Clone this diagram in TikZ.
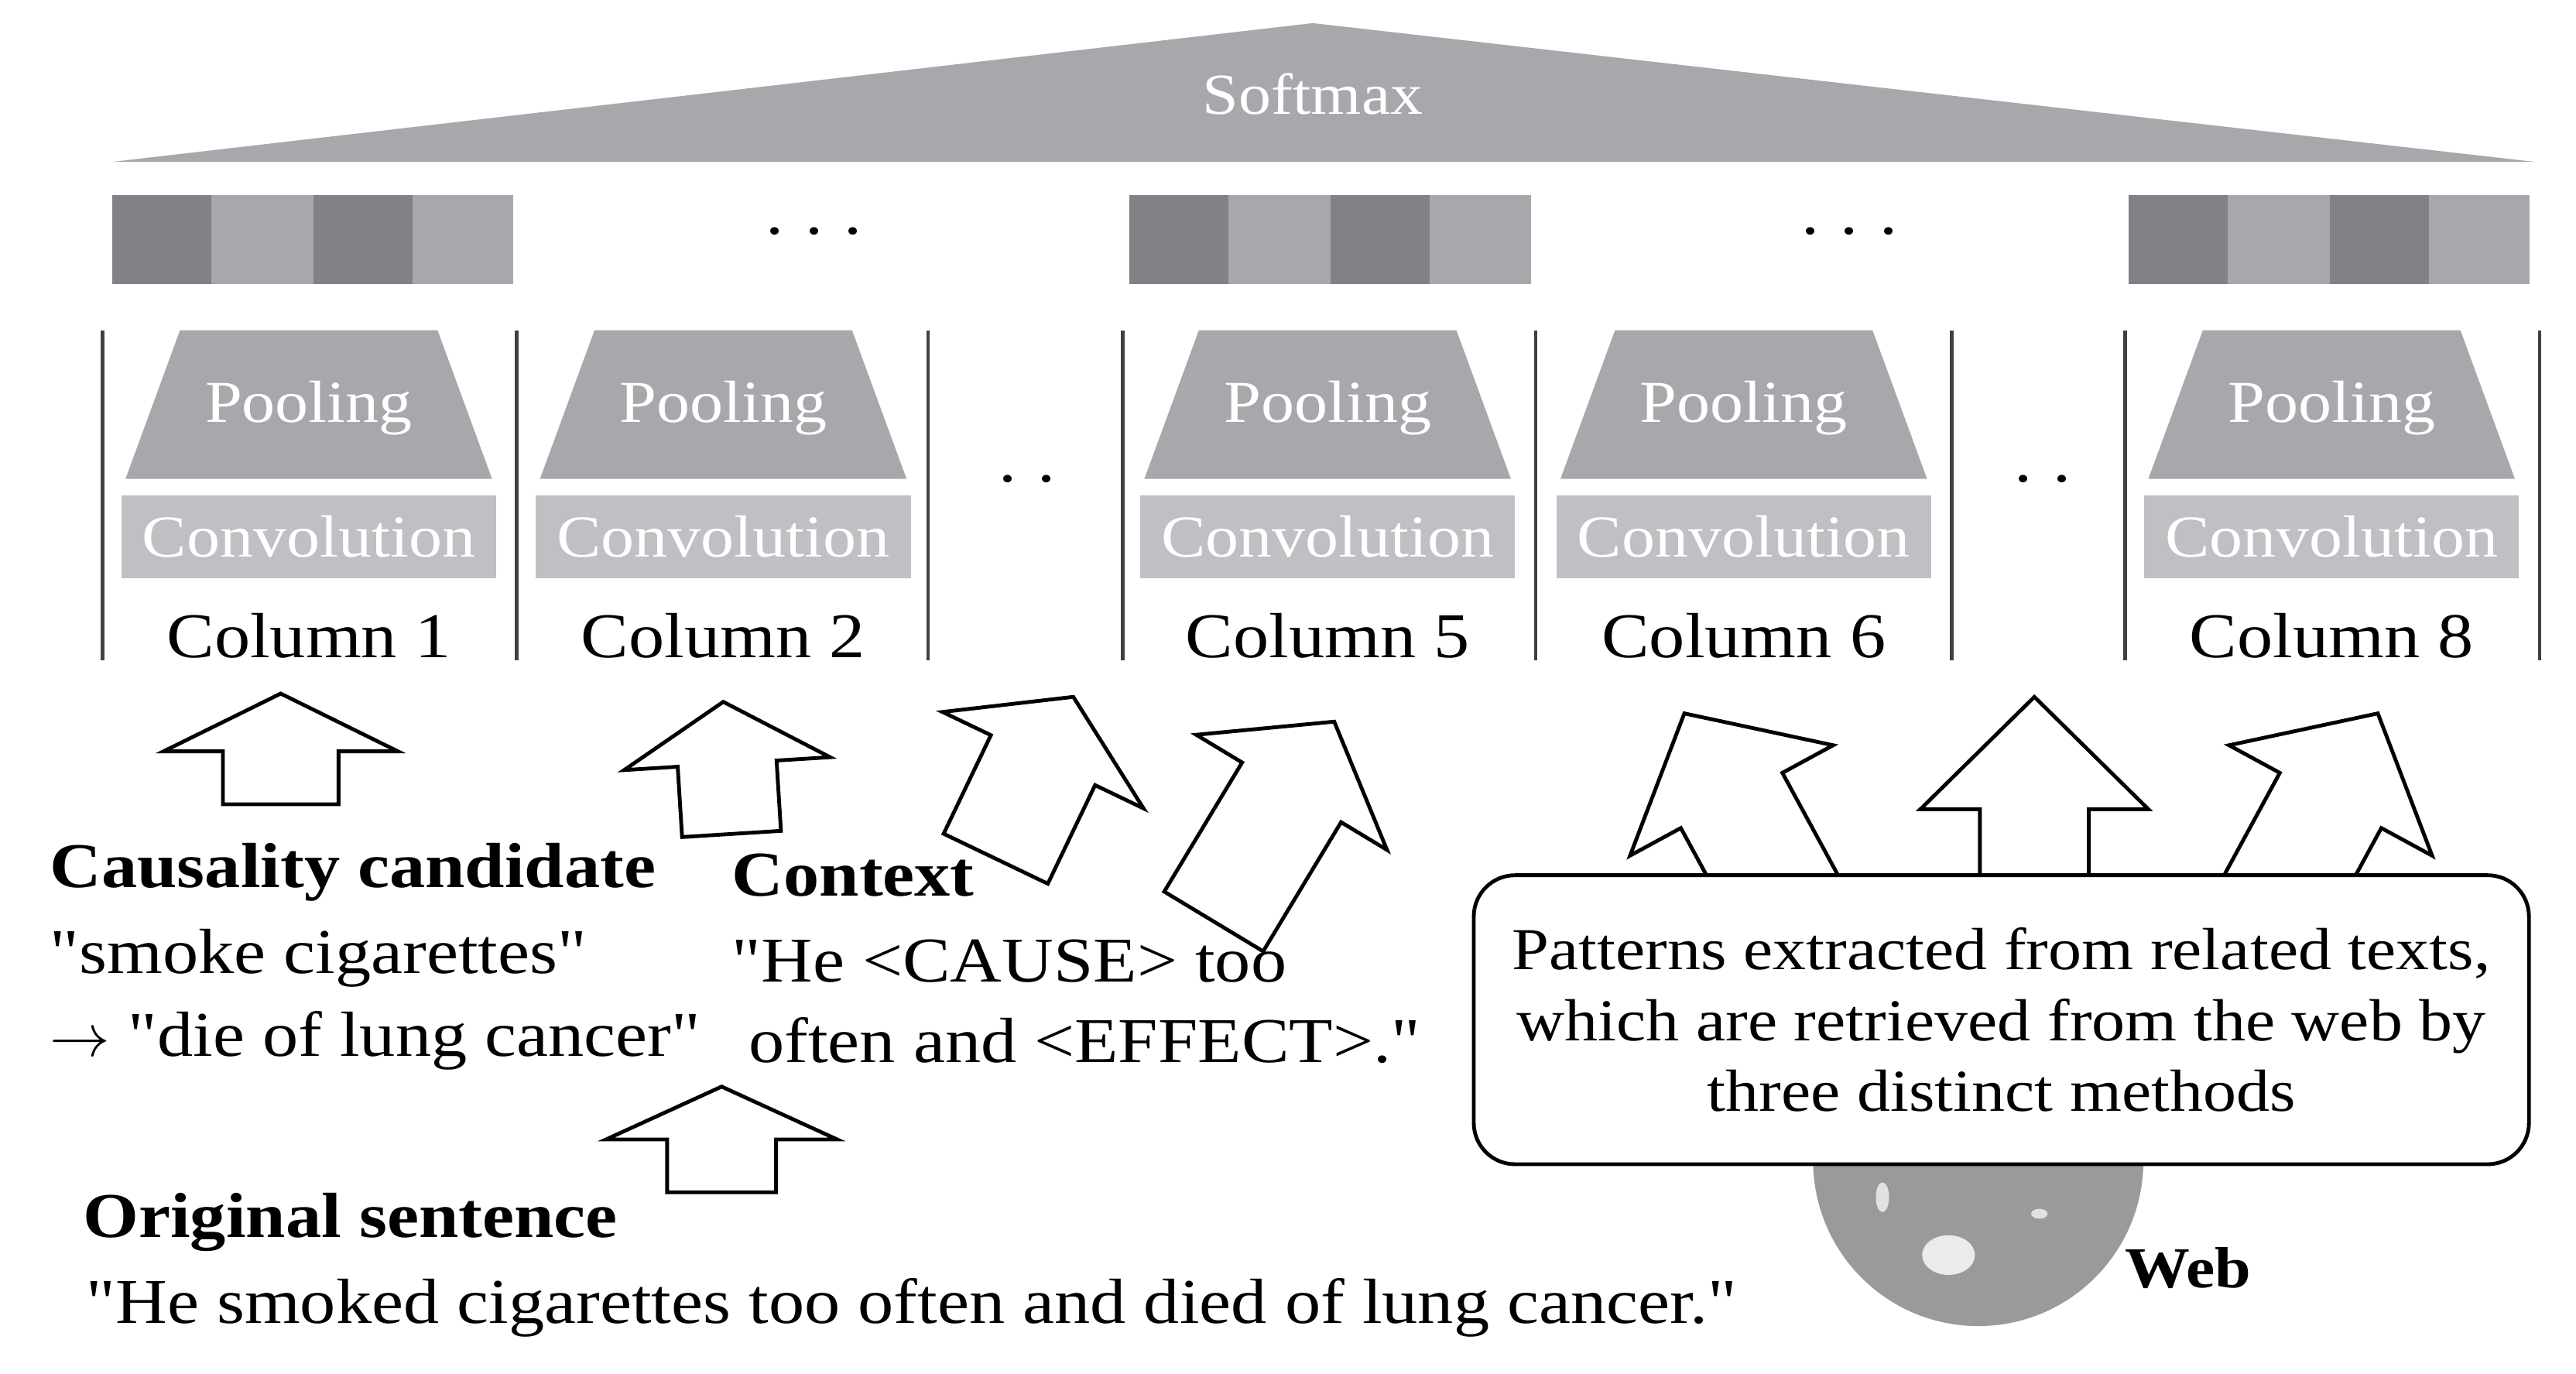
\documentclass[tikz,border=0pt]{standalone}
\usepackage{fontspec}
\setmainfont[FakeStretch=1.12]{Liberation Serif}
\newfontface\qf[FakeStretch=1.12]{Liberation Serif}
\usetikzlibrary{calc}
\definecolor{gmid}{HTML}{A7A8AB}
\definecolor{gdark}{HTML}{808285}
\definecolor{glight}{HTML}{BFC0C3}
\definecolor{globe}{HTML}{9A9A9A}
\newcommand{\q}{{\qf"}}
\newcommand{\blockarrow}[5]{% tail, tip, shaft half, head half, head len (cm)
  \draw[line width=1.3pt,fill=white,line join=miter]
   ($(#1)!#3!90:(#2)$)
   -- ($($(#2)!#5!(#1)$)!#3!90:(#2)$)
   -- ($($(#2)!#5!(#1)$)!#4!90:(#2)$)
   -- (#2)
   -- ($($(#2)!#5!(#1)$)!#4!-90:(#2)$)
   -- ($($(#2)!#5!(#1)$)!#3!-90:(#2)$)
   -- ($(#1)!#3!-90:(#2)$) -- cycle;}
\begin{document}
\begin{tikzpicture}[x=0.02cm,y=-0.02cm,
  sep/.style={line width=1.2pt,draw=black!75},
  pool/.style={fill=gmid},
  conv/.style={fill=glight,inner sep=0pt,minimum width=227*0.02cm,minimum height=50*0.02cm,text=white,font=\fontsize{20.5}{24}\selectfont},
  wlab/.style={text=white,font=\fontsize{20.5}{24}\selectfont},
  collab/.style={font=\fontsize{22}{26}\selectfont},
  txt/.style={anchor=west,inner sep=0pt,font=\fontsize{22}{26}\selectfont},
  btxt/.style={txt,font=\fontsize{22}{26}\selectfont\bfseries}]
\useasboundingbox (0,0) rectangle (1560,832);
% softmax
\fill[gmid] (68,98) -- (795,14) -- (1535,98) -- cycle;
\node[text=white,font=\fontsize{20}{22}\selectfont] (softmax) at (795,57) {Softmax};
% feature bars
\foreach \x in {68,684,1289}{
  \fill[gdark] (\x,118) rectangle ++(60,54);
  \fill[gmid] (\x+60,118) rectangle ++(62,54);
  \fill[gdark] (\x+122,118) rectangle ++(60,54);
  \fill[gmid] (\x+182,118) rectangle ++(61,54);
}
\node[font=\fontsize{22}{24}\selectfont] (dotsA) at (493,140) {.\,\,.\,\,.};
\node[font=\fontsize{22}{24}\selectfont] (dotsB) at (1120,140) {.\,\,.\,\,.};
% separators
\foreach \x in {62,313,562,680,930,1182,1287,1538}
  \draw[sep] (\x,200) -- (\x,400);
\node[font=\fontsize{22}{24}\selectfont] (ddA) at (622,290) {.\,\,.};
\node[font=\fontsize{22}{24}\selectfont] (ddB) at (1237,290) {.\,\,.};
% columns
\foreach \c/\n in {187/1,438/2,804/5,1056/6,1412/8}{
  \fill[pool] (\c-78,200) -- (\c+78,200) -- (\c+111,290) -- (\c-111,290) -- cycle;
  \node[wlab] (pool\n) at (\c,247) {Pooling};
  \node[conv] (conv\n) at (\c,325) {Convolution};
  \node[collab] (col\n) at (\c,385) {Column \n};
}
% texts
\node[btxt] (cc) at (30,528) {Causality candidate};
\node[txt] (cc1) at (30,580) {\q smoke cigarettes\q};
\node[txt] (cc2) at (30,630) {$\rightarrow$ \q die of lung cancer\q};
\node[btxt] (ctx) at (443,530) {Context};
\node[txt] (ctx1) at (443,582) {\q He <CAUSE> too};
\node[txt] (ctx2) at (453,630) {often and <EFFECT>.\q};
\node[btxt] (os) at (50,740) {Original sentence};
\node[txt] (os1) at (52,792) {\q He smoked cigarettes too often and died of lung cancer.\q};
% arrows
\coordinate (a1t) at (170,487); \coordinate (a1p) at (170,420);
\coordinate (a2t) at (443,505); \coordinate (a2p) at (438,425);
\coordinate (a3t) at (603,520); \coordinate (a3p) at (650,422);
\coordinate (a4t) at (735,558); \coordinate (a4p) at (808,437);
\coordinate (a5t) at (437,722); \coordinate (a5p) at (437,658);
\blockarrow{a1t}{a1p}{0.7cm}{1.42cm}{0.7cm}
\blockarrow{a2t}{a2p}{0.6cm}{1.25cm}{0.75cm}
\blockarrow{a3t}{a3p}{0.7cm}{1.35cm}{0.85cm}
\blockarrow{a4t}{a4p}{0.7cm}{1.35cm}{1.0cm}
\blockarrow{a5t}{a5p}{0.66cm}{1.4cm}{0.64cm}
% globe
\fill[globe] (1198,703) circle (100);
\fill[white!80!globe] (1180,760) ellipse (16 and 12);
\fill[white!70!globe] (1140,725) ellipse (4 and 9);
\fill[white!70!globe] (1235,735) ellipse (5 and 3);
\node[font=\fontsize{20}{22}\selectfont\bfseries] (web) at (1325,768) {Web};
% web arrows
\coordinate (w1t) at (1095,570); \coordinate (w1p) at (1020,432);
\coordinate (w2t) at (1232,570); \coordinate (w2p) at (1232,422);
\coordinate (w3t) at (1365,570); \coordinate (w3p) at (1440,432);
\blockarrow{w1t}{w1p}{0.7cm}{1.4cm}{1.2cm}
\blockarrow{w2t}{w2p}{0.66cm}{1.38cm}{1.36cm}
\blockarrow{w3t}{w3p}{0.7cm}{1.4cm}{1.2cm}
\node[draw,line width=1.3pt,fill=white,rounded corners=0.5cm,minimum width=639*0.02cm,minimum height=175*0.02cm,align=center,font=\fontsize{20.5}{24.5}\selectfont] (box) at (1212,617.5)
 {Patterns extracted from related texts,\\which are retrieved from the web by\\three distinct methods};
\end{tikzpicture}
\end{document}
